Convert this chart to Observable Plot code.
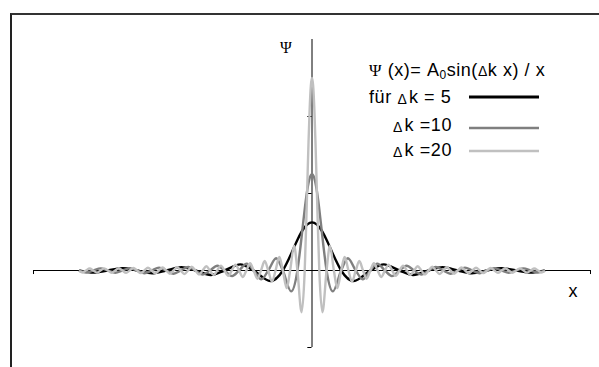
<!DOCTYPE html>
<html>
<head>
<meta charset="utf-8">
<script src="https://cdn.jsdelivr.net/npm/d3@7"></script>
<script src="https://cdn.jsdelivr.net/npm/@observablehq/plot@0.6"></script>
<style>
  html, body { margin: 0; padding: 0; background: #fff; }
  #wrap { position: relative; width: 599px; height: 367px; overflow: hidden; font-family: "Liberation Sans", Arial, sans-serif; }
  #border { position: absolute; left: 10px; top: 13px; width: 700px; height: 500px; border-left: 2px solid #222; border-top: 2px solid #333; box-sizing: border-box; }
  #chart, #overlay { position: absolute; left: 0; top: 0; }
  #overlay { pointer-events: none; }
</style>
</head>
<body>
<div id="wrap">
  <div id="border"></div>
  <div id="chart"></div>
  <svg id="overlay" width="599" height="367"></svg>
</div>
<script>
// ---- data (positive half, x >= 0; the curves are even so the left half mirrors it) ----
const dk5 = [
  [0,5],[0.1,4.79],[0.2,4.21],[0.3,3.33],[0.4,2.27],[0.5,1.20],[0.6283,0],
  [0.8987,-1.09],[1.2566,0],[1.5451,0.64],[1.8850,0],[2.1808,-0.46],[2.5133,0],
  [2.8132,0.35],[3.1416,0],[3.4442,-0.29],[3.7699,0],[4.0743,0.25],[4.3982,0],
  [4.7039,-0.21],[5,-0.03]
];
const dk10 = [
  [0,10],[0.05,9.59],[0.1,8.41],[0.15,6.65],[0.2,4.55],[0.25,2.39],[0.3142,0],
  [0.4493,-2.17],[0.6283,0],[0.7725,1.28],[0.9425,0],[1.0904,-0.91],[1.2566,0],
  [1.4066,0.71],[1.5708,0],[1.7221,-0.58],[1.8850,0],[2.0371,0.49],[2.1991,0],
  [2.3520,-0.42],[2.5133,0],[2.6666,0.37],[2.8274,0],[2.9812,-0.34],[3.1416,0],
  [3.2956,0.30],[3.4558,0],[3.6101,-0.28],[3.7699,0],[3.9244,0.25],[4.0841,0],
  [4.2388,-0.24],[4.3982,0],[4.5531,0.22],[4.7124,0],[4.8674,-0.21],[5,-0.05]
];
const dk20 = [
  [0,20],[0.025,19.18],[0.05,16.83],[0.075,13.30],[0.1,9.09],[0.125,4.79],[0.1571,0],
  [0.2247,-4.34],[0.3142,0],[0.3863,2.57],[0.4712,0],[0.5452,-1.83],[0.6283,0],
  [0.7033,1.42],[0.7854,0],[0.8610,-1.16],[0.9425,0],[1.0186,0.98],[1.0996,0],
  [1.1760,-0.85],[1.2566,0],[1.3333,0.75],[1.4137,0],[1.4906,-0.67],[1.5708,0],
  [1.6478,0.61],[1.7279,0],[1.8050,-0.55],[1.8850,0],[1.9622,0.51],[2.0420,0],
  [2.1194,-0.47],[2.1991,0],[2.2766,0.44],[2.3562,0],[2.4337,-0.41],[2.5133,0],
  [2.5909,0.39],[2.6704,0],[2.7480,-0.36],[2.8274,0],[2.9051,0.34],[2.9845,0],
  [3.0622,-0.33],[3.1416,0],[3.2194,0.31],[3.2987,0],[3.3765,-0.30],[3.4558,0],
  [3.5336,0.28],[3.6128,0],[3.6907,-0.27],[3.7699,0],[3.8478,0.26],[3.9270,0],
  [4.0049,-0.25],[4.0841,0],[4.1620,0.24],[4.2412,0],[4.3191,-0.23],[4.3982,0],
  [4.4762,0.22],[4.5553,0],[4.6333,-0.22],[4.7124,0],[4.7904,0.21],[4.8695,0],
  [4.9475,-0.20],[5,-0.10]
];
const seriesNames = ["für Δk = 5", "Δk =10", "Δk =20"];
const seriesColors = ["#000000", "#7f7f7f", "#c0c0c0"];
const seriesHalves = [dk5, dk10, dk20];
const xDomain = [-6, 6];
const yDomain = [-8, 24];
const xAxisTicks = [-6, 6];
const yAxisTicks = [-8, 8, 16];
const formulaText = ["Ψ", " (x)= A", "0", "sin(", "Δ", "k x) / x"];
const yLabel = "Ψ";
const xLabel = "x";

function fullSeries(half, name) {
  const left = half.slice(1).map(([x, y]) => ({x: -x, y, series: name})).reverse();
  const right = half.map(([x, y]) => ({x, y, series: name}));
  return left.concat(right);
}
const series = seriesHalves.map((h, i) => fullSeries(h, seriesNames[i]));

const chart = Plot.plot({
  width: 599, height: 367,
  marginLeft: 33, marginRight: 9, marginTop: 39, marginBottom: 20,
  x: {domain: xDomain, axis: null},
  y: {domain: yDomain, axis: null},
  style: {background: "transparent"},
  marks: [
    Plot.ruleY([0], {stroke: "#000", strokeWidth: 1}),
    Plot.ruleX([0], {stroke: "#000", strokeWidth: 1}),
    Plot.ruleX(xAxisTicks, {y1: 0, y2: -0.42, stroke: "#000", strokeWidth: 1}),
    Plot.ruleY(yAxisTicks, {x1: 0, x2: -0.09, stroke: "#000", strokeWidth: 1}),
    ...series.map((s, i) => Plot.line(s, {
      x: "x", y: "y", stroke: seriesColors[i], strokeWidth: 2.4,
      curve: "monotone-x", strokeLinejoin: "round"
    }))
  ]
});
document.getElementById("chart").appendChild(chart);

// ---- overlay: axis labels and legend ----
const ov = d3.select("#overlay");
const sans = "'Liberation Sans', Arial, sans-serif";
const serif = "'Liberation Serif', 'Times New Roman', serif";

ov.append("text").attr("x", 286).attr("y", 53).attr("text-anchor", "middle")
  .attr("fill", "#000").attr("font-family", serif).attr("font-size", 16).text(yLabel);
ov.append("text").attr("x", 573).attr("y", 297).attr("text-anchor", "middle")
  .attr("fill", "#000").attr("font-family", sans).attr("font-size", 18).text(xLabel);

// formula line
const f = ov.append("text").attr("x", 369).attr("y", 76)
  .attr("font-family", sans).attr("font-size", 18).attr("letter-spacing", 0.55).attr("fill", "#000");
f.append("tspan").attr("font-family", serif).attr("font-size", 17).text(formulaText[0]);
f.append("tspan").text(formulaText[1]);
f.append("tspan").attr("font-size", 12).attr("dy", 3).text(formulaText[2]);
f.append("tspan").attr("dy", -3).text(formulaText[3]);
f.append("tspan").attr("font-size", 14).text(formulaText[4]);
f.append("tspan").text(formulaText[5]);

const legendRows = [
  {tx: 369, ty: 103, ly: 97},
  {tx: 393, ty: 131, ly: 128},
  {tx: 393, ty: 156, ly: 151}
];
seriesNames.forEach((name, i) => {
  const r = legendRows[i];
  const t = ov.append("text").attr("x", r.tx).attr("y", r.ty)
    .attr("font-family", sans).attr("font-size", 18).attr("letter-spacing", 0.6).attr("fill", "#000");
  const idx = name.indexOf("Δ");
  if (idx > 0) t.append("tspan").text(name.slice(0, idx));
  t.append("tspan").attr("font-size", 14).attr("dy", 1).text("Δ");
  t.append("tspan").attr("dy", -1).attr("dx", 1.5).text(name.slice(idx + 1));
  ov.append("line").attr("x1", 469).attr("x2", 539).attr("y1", r.ly).attr("y2", r.ly)
    .attr("stroke", seriesColors[i]).attr("stroke-width", i === 0 ? 3 : 2.4);
});
</script>
</body>
</html>
